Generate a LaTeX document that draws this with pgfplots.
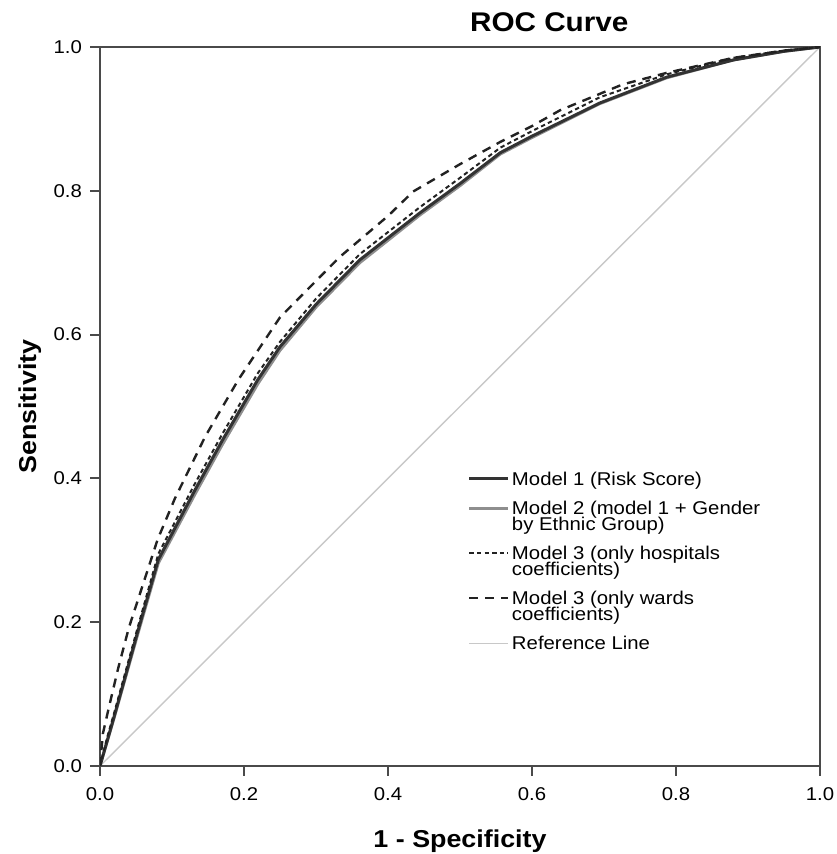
\documentclass[border=0pt]{standalone}
\usepackage{fontspec}
\setmainfont{Liberation Sans}[FakeStretch=1.1]
\usepackage{pgfplots}
\pgfplotsset{compat=1.18}
\definecolor{axgray}{HTML}{4A4A4A}
\definecolor{mone}{HTML}{333333}
\definecolor{mtwo}{HTML}{8E8E8E}
\definecolor{mthree}{HTML}{222222}
\definecolor{refgray}{HTML}{C8C8C8}
\pgfplotsset{
  monestyle/.style={mone, line width=1.5pt},
  mtwostyle/.style={mtwo, line width=1.4pt},
  hospstyle/.style={mthree, line width=1pt, dash pattern=on 2.2pt off 1.6pt},
  wardstyle/.style={mthree, line width=1.2pt, dash pattern=on 4.5pt off 3.5pt},
  refstyle/.style={refgray, line width=0.7pt},
}
\begin{document}
\begin{tikzpicture}
\path[use as bounding box] (0,0) rectangle (418pt,427pt);
\begin{axis}[
  at={(50pt,44pt)}, anchor=south west,
  scale only axis, width=360pt, height=359.5pt,
  xmin=0, xmax=1, ymin=0, ymax=1,
  xtick={0,0.2,0.4,0.6,0.8,1}, ytick={0,0.2,0.4,0.6,0.8,1},
  xtick pos=left, ytick pos=left,
  tick align=outside, major tick length=5pt,
  axis line style={axgray, line width=1pt},
  every tick/.style={axgray, line width=1pt},
  ticklabel style={font=\fontsize{9.25}{10}\selectfont},
  xticklabel style={yshift=-2.5pt},
  yticklabel style={xshift=-0.5pt},
  /pgf/number format/fixed, /pgf/number format/fixed zerofill,
  /pgf/number format/precision=1, /pgf/number format/assume math mode=true,
  title={ROC Curve},
  title style={at={(axis description cs:0.624,1)}, anchor=base, yshift=1.65pt,
    font=\bfseries\fontsize{13.5}{16}\selectfont, inner sep=0pt},
  xlabel={1 - Specificity},
  xlabel style={at={([yshift=-41pt]axis description cs:0.5,0)}, anchor=base,
    font=\bfseries\fontsize{12.2}{14}\selectfont, inner sep=0pt},
  ylabel={Sensitivity},
  ylabel style={at={([xshift=-32pt]axis description cs:0,0.5)}, anchor=base,
    font=\bfseries\fontsize{12.2}{14}\selectfont, inner sep=0pt},
  legend image code/.code={\draw[#1] (0pt,3.3pt) -- (19.5pt,3.3pt);},
  legend style={at={(0.5111,0.409)}, anchor=north west, draw=none, fill=none,
    inner sep=0pt, outer sep=0pt, row sep=0pt, column sep=1pt,
    font=\fontsize{9.25}{10}\selectfont,
    nodes={inner sep=0pt, text depth=0pt}, cells={anchor=base west}},
]
% Reference line
\addplot[refstyle, forget plot] coordinates {(0,0) (1,1)};
% Model 2
\addplot[mtwostyle, forget plot] coordinates {
(0,0) (0.02,0.068) (0.053,0.185) (0.081,0.282) (0.132,0.378) (0.17,0.447)
(0.219,0.531) (0.25,0.578) (0.30,0.638) (0.361,0.700) (0.444,0.766)
(0.50,0.807) (0.556,0.851) (0.60,0.874) (0.694,0.921) (0.787,0.957)
(0.88,0.982) (0.95,0.994) (1,1)};
% Model 1
\addplot[monestyle, forget plot] coordinates {
(0,0) (0.02,0.07) (0.053,0.189) (0.081,0.287) (0.132,0.384) (0.17,0.453)
(0.219,0.537) (0.25,0.583) (0.30,0.642) (0.361,0.704) (0.444,0.769)
(0.50,0.810) (0.556,0.853) (0.60,0.876) (0.694,0.922) (0.787,0.958)
(0.88,0.982) (0.95,0.994) (1,1)};
% Model 3 hospitals
\addplot[hospstyle, forget plot] coordinates {
(0,0) (0.01,0.04) (0.02,0.075) (0.053,0.195) (0.081,0.295) (0.132,0.393)
(0.17,0.462) (0.219,0.546) (0.25,0.590) (0.30,0.650) (0.361,0.712)
(0.444,0.777) (0.50,0.818) (0.556,0.860) (0.60,0.883) (0.694,0.930)
(0.787,0.962) (0.88,0.985) (0.95,0.995) (1,1)};
% Model 3 wards
\addplot[wardstyle, forget plot] coordinates {
(0,0) (0.004,0.045) (0.012,0.08) (0.025,0.135) (0.04,0.192) (0.08,0.315)
(0.104,0.372) (0.146,0.458) (0.192,0.537) (0.25,0.624) (0.333,0.708)
(0.40,0.765) (0.435,0.799) (0.50,0.837) (0.556,0.868) (0.60,0.890)
(0.639,0.912) (0.726,0.948) (0.787,0.964) (0.88,0.985) (0.95,0.995) (1,1)};
% Legend
\addlegendimage{monestyle}
\addlegendentry{Model 1 (Risk Score)}
\addlegendimage{mtwostyle}
\addlegendentry{\rule{0pt}{14.75pt}Model 2 (model 1 + Gender}
\addlegendimage{empty legend}
\addlegendentry{\rule{0pt}{7.75pt}by Ethnic Group)}
\addlegendimage{hospstyle}
\addlegendentry{\rule{0pt}{14.75pt}Model 3 (only hospitals}
\addlegendimage{empty legend}
\addlegendentry{\rule{0pt}{7.75pt}coefficients)}
\addlegendimage{wardstyle}
\addlegendentry{\rule{0pt}{14.75pt}Model 3 (only wards}
\addlegendimage{empty legend}
\addlegendentry{\rule{0pt}{7.75pt}coefficients)}
\addlegendimage{refstyle}
\addlegendentry{\rule{0pt}{14.75pt}Reference Line}
\end{axis}
\end{tikzpicture}
\end{document}
